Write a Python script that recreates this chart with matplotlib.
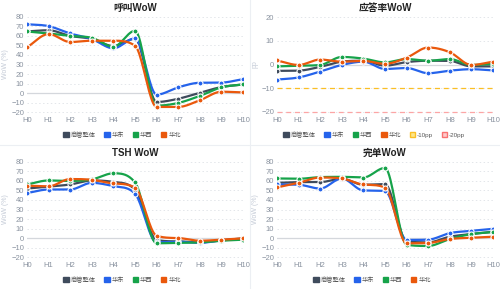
import matplotlib.pyplot as plt
import numpy as np
from matplotlib.patches import Patch
from matplotlib.lines import Line2D

plt.rcParams['font.family'] = ['Liberation Sans', 'Noto Sans CJK SC', 'DejaVu Sans']

hours = ['H0', 'H1', 'H2', 'H3', 'H4', 'H5', 'H6', 'H7', 'H8', 'H9', 'H10']
series_names = ['商管整体', '华东', '华西', '华北']
colors = ['#3f4b5c', '#2563eb', '#16a34a', '#ea580c']

# 呼叫WoW
call_total = [64.7, 66, 60, 57, 49.4, 57, -9.4, -6, 0.3, 6.3, 9]
call_east = [72.3, 70.3, 62.6, 56.7, 47, 57.4, -1.7, 6, 10.8, 11, 14.6]
call_west = [64.7, 62.6, 60, 58, 48.7, 65.4, -13.2, -10.4, -3, 6, 9]
call_north = [48, 62, 53.6, 55, 55, 49.7, -14.6, -14.6, -7.6, 1.4, 0.7]

# 应答率WoW (pp)
ans_total = [-2.7, -2.6, -1, 1.2, 1.6, -0.5, 1, 1.6, 1.5, -0.8, -0.8]
ans_east = [-6.4, -5.5, -3, -0.2, 1.2, -1.9, -1.5, -3.7, -2.6, -2, -2.5]
ans_west = [-0.8, -0.5, -0.2, 3.2, 2.5, 0.9, 2.3, 1.6, 2.3, -0.2, 0.3]
ans_north = [1.7, -0.2, 2.1, 1.2, 1.5, 0.3, 2.9, 7.2, 5.2, -0.2, 1.2]

# TSH WoW
tsh_total = [52, 54, 56.3, 60.5, 59, 50.8, -2, -3.5, -4.5, -2.4, -0.3]
tsh_east = [47.3, 51, 51, 58, 54.6, 46.6, -4.5, -4, -5, -2.4, -1]
tsh_west = [56.3, 60.5, 60, 61.6, 68, 58.4, -5.5, -5, -4.5, -2.8, -1.7]
tsh_north = [55, 54.3, 62, 61.2, 57.4, 53, 2.4, 0, -2.8, -1.7, -0.3]

# 完单WoW
done_total = [58, 58.8, 58.8, 62.3, 56, 56.7, -3.5, -4.5, 1.4, 4.2, 6.6]
done_east = [56.3, 56, 52, 62.6, 50, 49.4, -2, -1.7, 5.2, 7.6, 9.7]
done_west = [62.6, 62.3, 64, 64.3, 63.6, 73.7, -7, -8.3, -1, 4.2, 6.3]
done_north = [53.2, 58, 63.6, 62.6, 56.3, 53, -5.5, -5.2, -1, 0.3, 1.4]


def monotone(x, y, n=20):
    # Fritsch-Carlson monotone cubic, like chart.js 'monotone'
    x = np.asarray(x, float)
    y = np.asarray(y, float)
    h = np.diff(x)
    d = np.diff(y) / h
    m = np.zeros_like(y)
    m[0], m[-1] = d[0], d[-1]
    for i in range(1, len(y) - 1):
        m[i] = 0 if d[i - 1] * d[i] <= 0 else (d[i - 1] + d[i]) / 2
    for i in range(len(d)):
        if d[i] == 0:
            m[i] = m[i + 1] = 0
            continue
        a, b = m[i] / d[i], m[i + 1] / d[i]
        s = a * a + b * b
        if s > 9:
            t = 3 / np.sqrt(s)
            m[i], m[i + 1] = t * a * d[i], t * b * d[i]
    xs, ys = [], []
    for i in range(len(d)):
        t = np.linspace(0, 1, n, endpoint=False)
        h00 = 2 * t**3 - 3 * t**2 + 1
        h10 = t**3 - 2 * t**2 + t
        h01 = -2 * t**3 + 3 * t**2
        h11 = t**3 - t**2
        xs.append(x[i] + t * h[i])
        ys.append(h00 * y[i] + h10 * h[i] * m[i] + h01 * y[i + 1] + h11 * h[i] * m[i + 1])
    xs.append([x[-1]])
    ys.append([y[-1]])
    return np.concatenate(xs), np.concatenate(ys)


fig = plt.figure(figsize=(5, 2.89), dpi=100)
W, H = 500, 289


def make_ax(x0, x1, ytop, ybot):
    return fig.add_axes([x0 / W, 1 - ybot / H, (x1 - x0) / W, (ybot - ytop) / H])


def draw(ax, title, data, ylim, ticks, ylabel, refs=()):
    x = np.arange(len(hours))
    ax.set_ylim(*ylim)
    ax.set_xlim(0, len(hours) - 1)
    for t in ticks:
        ax.axhline(t, color='#e3e6ea', lw=0.7, ls=(0, (1.5, 2.5)), zorder=0)
    ax.axhline(0, color='#d4d7dc', lw=0.9, zorder=1)
    for val, c in refs:
        ax.axhline(val, color=c, lw=0.9, ls=(0, (4, 3)), zorder=1)
    for ys, c in zip(data, colors):
        sx, sy = monotone(x, ys)
        ax.plot(sx, sy, color=c, lw=1.6, zorder=3)
        ax.plot(x, ys, 'o', color=c, ms=3.6, mec='white', mew=0.8, zorder=4)
    ax.set_yticks(ticks)
    ax.set_xticks(x)
    ax.set_xticklabels(hours)
    ax.tick_params(length=0, labelsize=5.5, labelcolor='#8a93a0', pad=2)
    for s in ax.spines.values():
        s.set_visible(False)
    ax.set_ylabel(ylabel, fontsize=5, color='#c3cad6', labelpad=2)
    ax.set_title(title, fontsize=7, fontweight='bold', color='#222', pad=3)


pct_ticks = [-20, -10, 0, 10, 20, 30, 40, 50, 60, 70, 80]
pp_ticks = [-20, -10, 0, 10, 20]

ax1 = make_ax(27, 243, 15, 114)
draw(ax1, '呼叫WoW', [call_total, call_east, call_west, call_north], (-22, 82), pct_ticks, 'WoW (%)')
ax2 = make_ax(277, 493, 15, 114)
draw(ax2, '应答率WoW', [ans_total, ans_east, ans_west, ans_north], (-21, 21), pp_ticks, 'pp',
     refs=[(-10, '#fbbf24'), (-20, '#fca5a5')])
ax3 = make_ax(27, 243, 160, 259)
draw(ax3, 'TSH WoW', [tsh_total, tsh_east, tsh_west, tsh_north], (-22, 82), pct_ticks, 'WoW (%)')
ax4 = make_ax(277, 493, 160, 259)
draw(ax4, '完单WoW', [done_total, done_east, done_west, done_north], (-22, 82), pct_ticks, 'WoW (%)')

leg_kw = dict(loc='center', frameon=False, fontsize=4.5, handlelength=0.85, handleheight=0.85,
              handletextpad=0.3, columnspacing=1.4, labelcolor='#555', borderpad=0)
handles = [Patch(facecolor=c, edgecolor=c) for c in colors]
for ax in (ax1, ax3, ax4):
    ax.legend(handles, series_names, bbox_to_anchor=(0.44, -0.21), ncol=4, **leg_kw)
ref_handles = handles + [Patch(facecolor='#fde68a', edgecolor='#fbbf24', lw=1.0),
                         Patch(facecolor='#fecaca', edgecolor='#f87171', lw=1.0)]
ax2.legend(ref_handles, series_names + ['-10pp', '-20pp'], bbox_to_anchor=(0.45, -0.21), ncol=6, **leg_kw)

fig.add_artist(Line2D([250 / W, 250 / W], [0, 1], color='#eceff3', lw=0.8))
fig.add_artist(Line2D([0, 1], [1 - 145 / H, 1 - 145 / H], color='#eceff3', lw=0.8))

fig.savefig('out.png', dpi=100)
